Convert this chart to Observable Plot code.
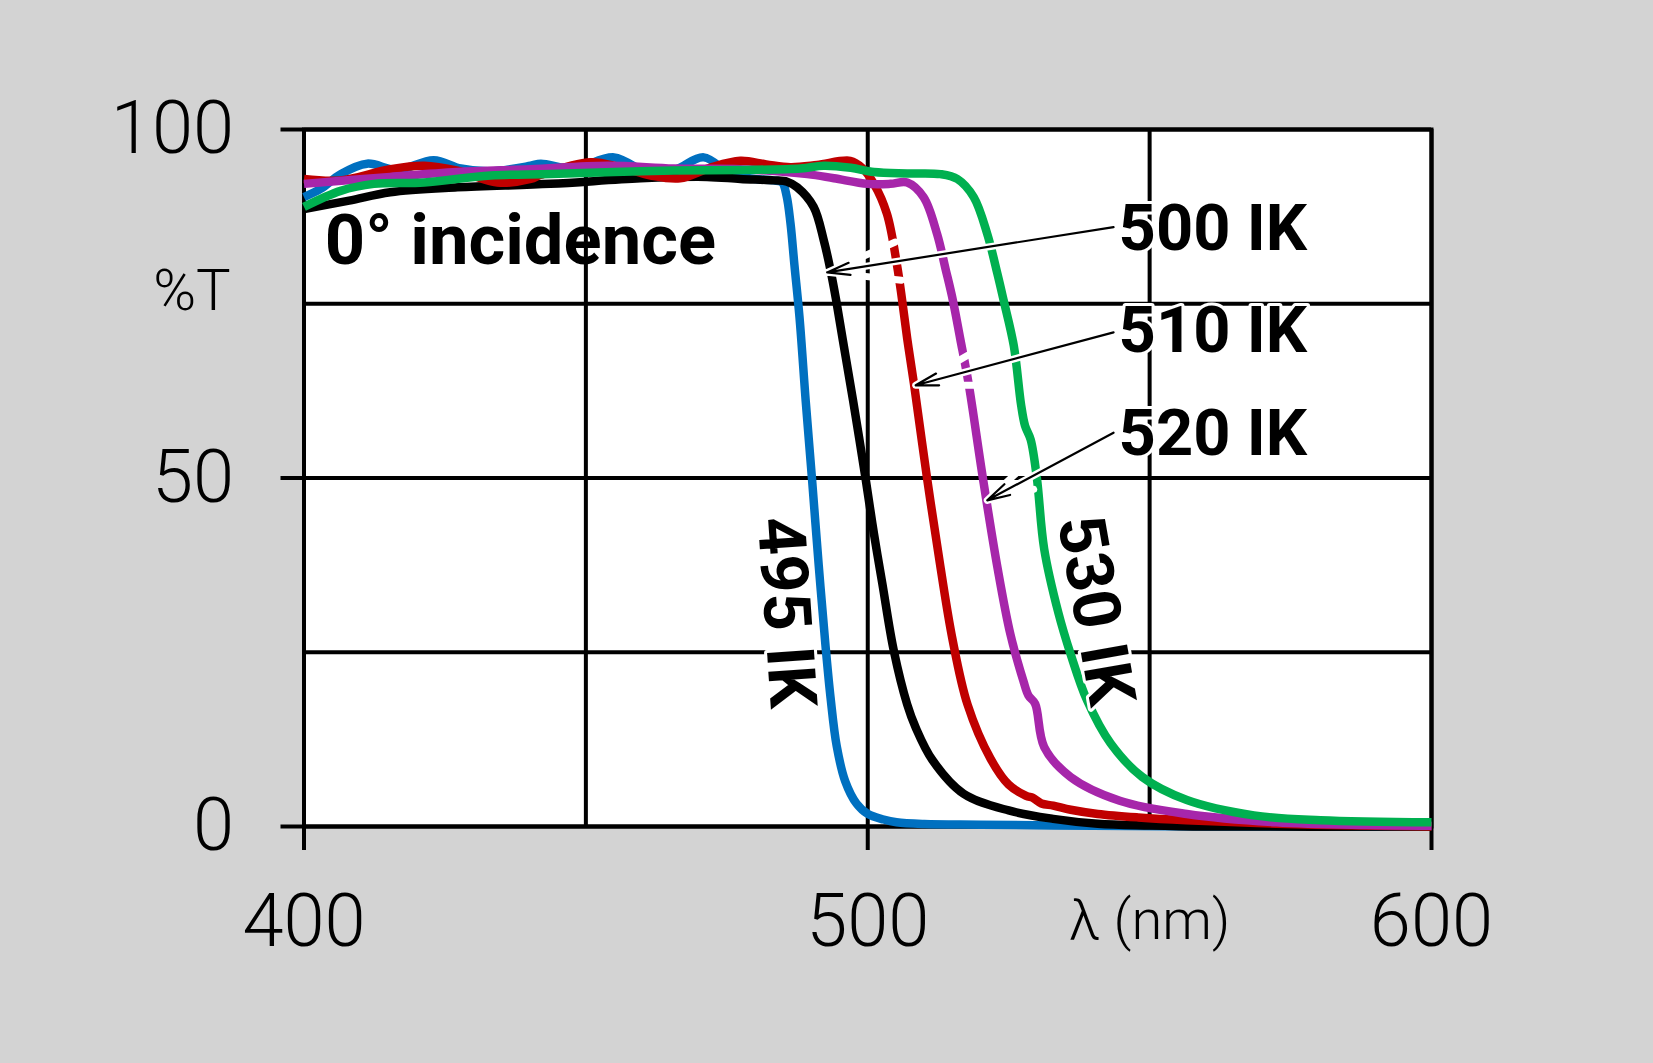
<!DOCTYPE html>
<html>
<head>
<meta charset="utf-8">
<script src="https://cdn.jsdelivr.net/npm/d3@7"></script>
<script src="https://cdn.jsdelivr.net/npm/@observablehq/plot@0.6"></script>
<style>
  html, body { margin: 0; padding: 0; background: #d3d3d3; }
  #chart { width: 1653px; height: 1063px; }
</style>
</head>
<body>
<div id="chart"></div>
<script>
// ---- data (wavelength nm, transmission %) ----
const wl495 = [400, 403, 406.5, 411.2, 416.5, 423, 427.8, 433, 440.2, 442, 447.9, 455, 461.5, 466, 470.9, 475.7, 480, 483.3, 484.8, 485.6, 486.3, 487.0, 487.9, 489.0, 490.1, 491.3, 492.5, 493.4, 494.5, 496, 498, 500, 502.8, 505.1, 510, 520, 540, 560, 600];
const t495  = [90.3, 91.5, 93.6, 95.1, 94.2, 95.6, 94.4, 94.0, 94.8, 95.1, 94.4, 96.0, 93.6, 94.3, 96.0, 93.6, 92.9, 92.7, 92.4, 90.5, 86.5, 80.5, 73, 61, 50, 37.5, 26, 18.5, 11.5, 6.5, 3.3, 1.8, 1.0, 0.6, 0.35, 0.25, 0.1, 0.0, 0.0];

const wl500 = [400, 408, 415.3, 427.2, 443.7, 459.7, 471.5, 477.4, 483.3, 485.7, 487.5, 490.4, 492.2, 493.4, 494.4, 495.6, 497.4, 499.6, 501.1, 502.6, 504.6, 507, 508.5, 511.5, 517, 525, 532.9, 540.8, 550, 560, 600];
const t500  = [88.6, 89.8, 91.0, 91.7, 92.2, 93.0, 93.2, 92.9, 92.7, 92.5, 91.7, 88.9, 84.1, 79.8, 75.5, 69.7, 61.1, 50, 42, 34.8, 25.3, 17.5, 14.2, 9.5, 4.7, 2.3, 1.1, 0.4, 0.15, 0.0, 0.0];

const wl510 = [400, 406.5, 415.3, 421.3, 427.2, 434.3, 440.2, 442, 450.8, 456, 461.5, 466.7, 472, 477.4, 482, 486.3, 491, 496.9, 499, 501.1, 503.4, 505.2, 506.1, 507, 508.2, 510.5, 512.9, 515, 517.7, 521.8, 525, 528.1, 529.3, 530.8, 532.9, 536, 540.8, 548, 556.5, 572.5, 590, 600];
const t510  = [92.9, 92.7, 94.3, 94.8, 94.1, 92.4, 92.9, 93.5, 95.3, 94.6, 93.4, 93.0, 94.5, 95.5, 95.0, 94.6, 94.9, 95.5, 94.5, 92.2, 87.9, 80.5, 75.5, 70.0, 63.5, 50.1, 37.2, 27.0, 17.5, 9.7, 6.0, 4.4, 4.1, 3.3, 3.0, 2.4, 1.8, 1.3, 0.9, 0.4, 0.1, 0.0];

const wl520 = [400, 415.3, 427.2, 440.2, 453.8, 465.6, 477.4, 489.3, 494, 500, 504, 507, 509.9, 512.3, 513.8, 515.1, 516.4, 517.9, 520.4, 523.0, 525.3, 527.6, 528.5, 529.7, 531.3, 536.0, 544.7, 556.6, 572.5, 588.4, 600];
const t520  = [92.2, 93.2, 93.9, 94.3, 94.8, 94.4, 94.3, 93.6, 93.0, 92.2, 92.2, 92.4, 90.3, 85.0, 80.0, 75.5, 70.0, 63.5, 50.1, 37.2, 27.6, 20.9, 18.8, 17.6, 11.4, 7.1, 3.7, 1.8, 0.6, 0.2, 0.1];

const wl530 = [400, 406.5, 412.4, 421.3, 433.1, 443.7, 455, 465.6, 477.4, 488.1, 492.2, 497, 501.1, 507, 512.9, 515.9, 518.8, 521.2, 523.0, 524.1, 525.9, 527.2, 527.9, 528.9, 530.0, 531.3, 533.8, 536.0, 538.9, 543.1, 548.7, 556.6, 568.5, 580.3, 600];
const t530  = [88.9, 91.2, 92.2, 92.4, 93.4, 93.6, 93.9, 94.1, 94.2, 94.4, 94.8, 94.5, 93.9, 93.7, 93.6, 92.9, 90.3, 85.0, 79.3, 75.5, 69.0, 60.5, 57.5, 55.5, 50.0, 39.8, 30.7, 24.7, 18.1, 11.9, 7.1, 3.8, 1.6, 0.9, 0.6];

const seriesNames  = ["495 IK", "500 IK", "510 IK", "520 IK", "530 IK"];
const seriesColors = ["#0070c0", "#000000", "#c00000", "#a626aa", "#00b050"];
const seriesWl = [wl495, wl500, wl510, wl520, wl530];
const seriesT  = [t495, t500, t510, t520, t530];

const xTicks = [400, 500, 600];
const xGrid  = [400, 450, 500, 550, 600];
const yTicks = [0, 50, 100];
const yGrid  = [0, 25, 50, 75, 100];

// callout labels with arrows
const calloutLabels = ["500 IK", "510 IK", "520 IK"];
const calloutX  = [544.5, 544.5, 544.5];
const calloutY  = [85.7, 71.0, 56.3];
const arrowX1   = [543.6, 543.6, 543.6];
const arrowY1   = [86.0, 70.9, 56.5];
const arrowX2   = [492.8, 508.5, 521.2];
const arrowY2   = [79.5, 63.3, 46.8];

// rotated in-plot labels
const rotLabels = ["495 IK", "530 IK"];
const rotX = [485.4, 540.3];
const rotY = [30.7, 31.0];
const rotA = [86, 80];

// ---- build tables ----
const rows = seriesNames.flatMap((name, i) =>
  seriesWl[i].map((w, j) => ({series: name, wl: w, t: seriesT[i][j]})));
const callouts = calloutLabels.map((label, i) => ({
  label, x: calloutX[i], y: calloutY[i],
  x1: arrowX1[i], y1: arrowY1[i], x2: arrowX2[i], y2: arrowY2[i]
}));
const rotated = rotLabels.map((label, i) => ({label, x: rotX[i], y: rotY[i], a: rotA[i]}));

const boldFont = "Roboto, 'Liberation Sans', sans-serif";
const lightFont = "Roboto, 'Open Sans', sans-serif";

const chart = Plot.plot({
  width: 1653,
  height: 1063,
  marginLeft: 303.5,
  marginRight: 222,
  marginTop: 129,
  marginBottom: 237,
  style: {background: "#d3d3d3", overflow: "visible"},
  x: {domain: [400, 600]},
  y: {domain: [0, 100]},
  color: {domain: seriesNames, range: seriesColors},
  marks: [
    Plot.frame({fill: "white", stroke: null}),
    Plot.gridX(xGrid, {stroke: "black", strokeOpacity: 1, strokeWidth: 4}),
    Plot.gridY(yGrid, {stroke: "black", strokeOpacity: 1, strokeWidth: 4}),
    Plot.axisX({ticks: xTicks, tickSize: 24, tickPadding: 43, strokeWidth: 4,
      fontSize: 74, fontWeight: 300, fontFamily: lightFont, label: null, tickFormat: d => String(d)}),
    Plot.axisY({ticks: yTicks, tickSize: 23, tickPadding: 47, strokeWidth: 4,
      fontSize: 74, fontWeight: 300, fontFamily: lightFont, label: null, tickFormat: d => String(d)}),
    Plot.frame({stroke: "black", strokeWidth: 4}),
    ...seriesNames.map(name => Plot.line(rows.filter(d => d.series === name), {
      x: "wl", y: "t", stroke: "series", strokeWidth: 8.5, curve: "catmull-rom",
      strokeLinejoin: "round", strokeLinecap: "butt"
    })),
    // arrow halos + arrows
    Plot.arrow(callouts, {x1: "x1", y1: "y1", x2: "x2", y2: "y2", stroke: "white",
      strokeWidth: 7, headLength: 16, headAngle: 30, bend: false}),
    Plot.arrow(callouts, {x1: "x1", y1: "y1", x2: "x2", y2: "y2", stroke: "black",
      strokeWidth: 2.2, headLength: 16, headAngle: 30, bend: false}),
    Plot.text(callouts, {x: "x", y: "y", text: "label", textAnchor: "start",
      fontSize: 65, fontWeight: 700, fontFamily: boldFont, fill: "black",
      stroke: "white", strokeWidth: 6, paintOrder: "stroke"}),
    Plot.text(rotated, {x: "x", y: "y", text: "label", rotate: "a", textAnchor: "middle",
      fontSize: 66, fontWeight: 700, fontFamily: boldFont, fill: "black",
      stroke: "white", strokeWidth: 6, paintOrder: "stroke"}),
    Plot.text(["0° incidence"], {x: 403.7, y: 84.0, text: d => d, textAnchor: "start",
      fontSize: 70.5, fontWeight: 700, fontFamily: boldFont, fill: "black"}),
    Plot.text(["%T"], {x: 387, y: 76.8, text: d => d, textAnchor: "end",
      fontSize: 58, fontWeight: 300, fontFamily: lightFont, fill: "black", clip: false}),
    Plot.text(["λ (nm)"], {x: 550, y: -13.5, text: d => d, textAnchor: "middle",
      fontSize: 56, fontWeight: 300, fontFamily: lightFont, fill: "black", clip: false})
  ]
});
document.getElementById("chart").appendChild(chart);
</script>
</body>
</html>
